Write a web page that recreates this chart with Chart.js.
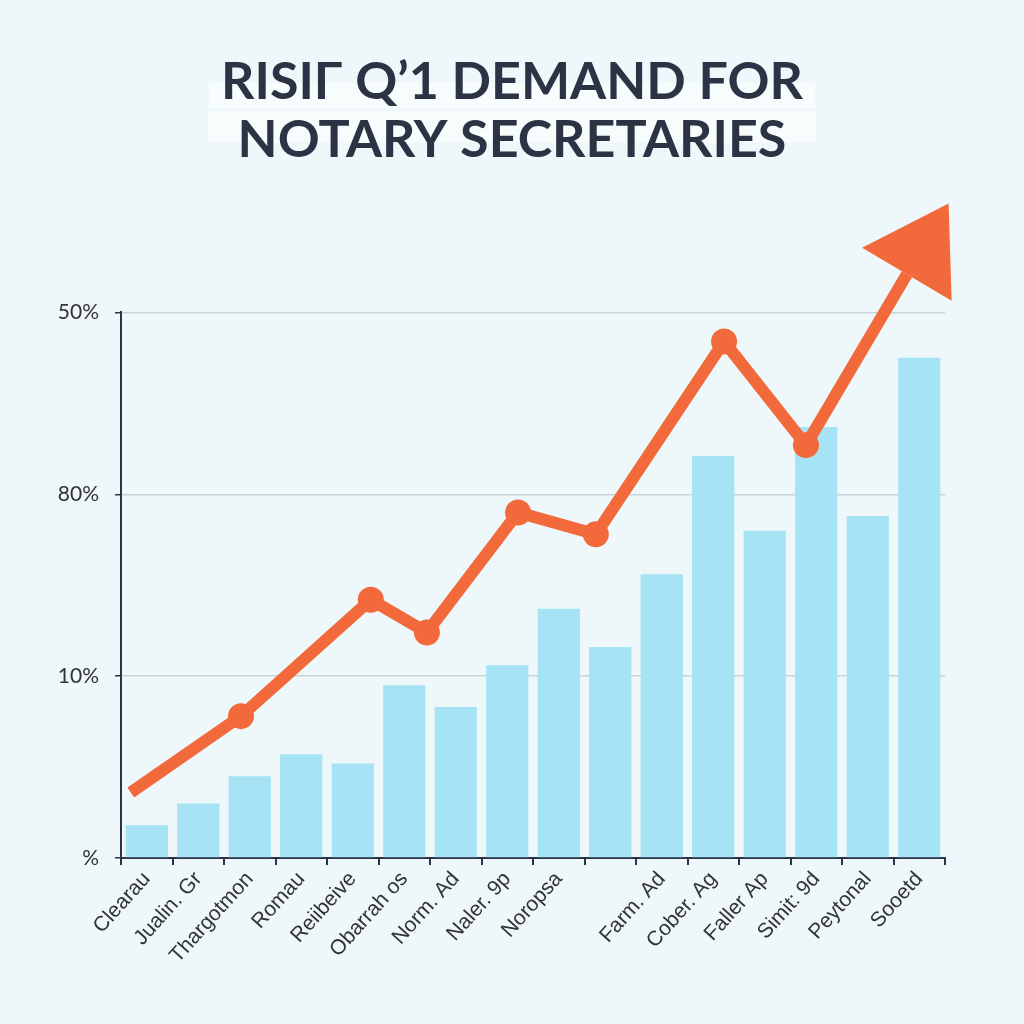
<!DOCTYPE html>
<html>
<head>
<meta charset="utf-8">
<script src="https://cdn.jsdelivr.net/npm/chart.js@4"></script>
<style>
  html, body { margin: 0; padding: 0; background: #eef8fb; }
  #wrap { width: 1024px; height: 1024px; position: relative; }
</style>
</head>
<body>
<div id="wrap"><canvas id="myChart" width="1024" height="1024"></canvas></div>
<script>
// categorias del eje x (la 10a barra no tiene etiqueta)
const categories = ['Clearau', 'Jualin. Gr', 'Thargotmon', 'Romau', 'Reiibeive', 'Obarrah os',
  'Norm. Ad', 'Naler. 9p', 'Noropsa', '', 'Farm. Ad', 'Cober. Ag', 'Faller Ap', 'Simit: 9d',
  'Peytonal', 'Sooetd']
// etiquetas del eje y, de abajo hacia arriba
const yLabels = ['%', '10%', '80%', '50%']
// alturas de las barras (en pasos del eje y)
const barValues = [0.18, 0.30, 0.45, 0.57, 0.52, 0.95, 0.83, 1.06, 1.37, 1.16, 1.56, 2.21, 1.80, 2.37, 1.88, 2.75]
// linea de tendencia: posicion x (en categorias) y valor y
const trendX = [0.19, 2.33, 4.85, 5.94, 7.71, 9.22, 11.71, 13.30, 15.26]
const trendY = [0.36, 0.78, 1.42, 1.24, 1.90, 1.78, 2.84, 2.27, 3.21]

const orange = '#f26a3b'
const ink = '#2b3344'

// franjas blancas detras del titulo
const titleBands = {
  id: 'titleBands',
  beforeDraw(chart) {
    const t = chart.titleBlock
    const c = chart.ctx
    const cx = (t.left + t.right) / 2
    const lh = 52 * 1.1
    const top = t.top + 54
    c.save()
    c.fillStyle = 'rgba(255,255,255,0.55)'
    c.fillRect(cx - 303, top + lh * 0.5, 606, lh * 0.45)
    c.fillRect(cx - 304, top + lh * 1.0, 608, lh * 0.55)
    c.restore()
  }
}

// punta de flecha al final de la linea
const arrowHead = {
  id: 'arrowHead',
  afterDatasetsDraw(chart) {
    const pts = chart.getDatasetMeta(1).data
    const a = pts[pts.length - 2], b = pts[pts.length - 1]
    const ang = Math.atan2(b.y - a.y, b.x - a.x)
    const len = 82, half = 52
    const c = chart.ctx
    c.save()
    c.fillStyle = orange
    c.beginPath()
    c.moveTo(b.x + Math.cos(ang) * len, b.y + Math.sin(ang) * len)
    c.lineTo(b.x + Math.cos(ang + Math.PI / 2) * half, b.y + Math.sin(ang + Math.PI / 2) * half)
    c.lineTo(b.x + Math.cos(ang - Math.PI / 2) * half, b.y + Math.sin(ang - Math.PI / 2) * half)
    c.closePath()
    c.fill()
    c.restore()
  }
}

const ctx = document.getElementById('myChart')
new Chart(ctx, {
  data: {
    labels: categories,
    datasets: [{
      type: 'bar',
      data: barValues,
      backgroundColor: '#a6e3f5',
      barPercentage: 0.82,
      categoryPercentage: 1,
      grouped: false,
      order: 2
    }, {
      type: 'line',
      xAxisID: 'x2',
      data: trendX.map((x, i) => ({ x: x, y: trendY[i] })),
      borderColor: orange,
      borderWidth: 12,
      borderJoinStyle: 'miter',
      tension: 0,
      pointRadius: trendX.map((x, i) => (i === 0 || i === trendX.length - 1) ? 0 : 13),
      pointBackgroundColor: orange,
      pointBorderWidth: 0,
      clip: false,
      order: 1
    }]
  },
  options: {
    responsive: false,
    animation: false,
    layout: { padding: 0 },
    plugins: {
      legend: { display: false },
      tooltip: { enabled: false },
      title: {
        display: true,
        text: ['RISIΓ Q’1 DEMAND FOR', 'NOTARY SECRETARIES'],
        color: ink,
        font: { family: 'Lato', size: 52, weight: 'bold', lineHeight: 1.1 },
        padding: { top: 54, bottom: 144 }
      }
    },
    scales: {
      x: {
        type: 'category',
        offset: true,
        grid: { display: true, drawOnChartArea: false, offset: true, tickLength: 7, color: ink, lineWidth: 2 },
        border: { display: true, color: ink, width: 2 },
        ticks: {
          color: '#333',
          font: { family: 'Liberation Sans', size: 21 },
          minRotation: 48,
          maxRotation: 48,
          autoSkip: false,
          padding: 2
        },
        afterFit(scale) { scale.height = 166 }
      },
      x2: {
        type: 'linear',
        min: 0,
        max: 16,
        display: false
      },
      y: {
        min: 0,
        max: 3,
        ticks: {
          stepSize: 1,
          color: '#333',
          font: { family: 'Lato', size: 21 },
          padding: 16,
          callback: (v) => yLabels[v]
        },
        grid: {
          color: (c) => c.index === 0 ? 'rgba(0,0,0,0)' : '#c8d4da',
          lineWidth: 1.5,
          tickLength: 6,
          tickColor: ink
        },
        border: { display: true, color: ink, width: 2 },
        afterFit(scale) { scale.width = 121 }
      },
      // eje vacio a la derecha solo para reservar margen
      yR: {
        position: 'right',
        min: 0,
        max: 3,
        grid: { display: false },
        border: { display: false },
        ticks: { display: false },
        afterFit(scale) { scale.width = 79 }
      }
    }
  },
  plugins: [titleBands, arrowHead]
})
</script>
</body>
</html>
